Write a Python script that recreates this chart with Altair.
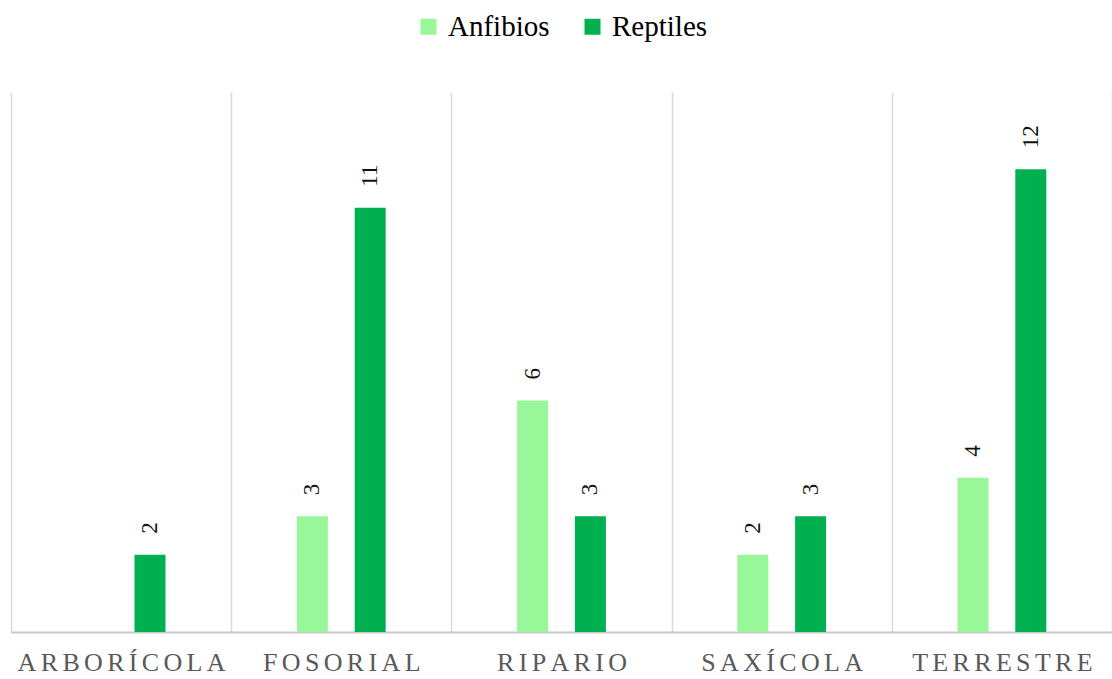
import altair as alt
import pandas as pd

categories = ["ARBORÍCOLA", "FOSORIAL", "RIPARIO", "SAXÍCOLA", "TERRESTRE"]
series = ["Anfibios", "Reptiles"]
anfibios = [None, 3, 6, 2, 4]
reptiles = [2, 11, 3, 3, 12]
colors = ["#98F798", "#00B050"]

rows = []
for c, a, r in zip(categories, anfibios, reptiles):
    if a is not None:
        rows.append({"cat": c, "serie": "Anfibios", "valor": a})
    if r is not None:
        rows.append({"cat": c, "serie": "Reptiles", "valor": r})
df = pd.DataFrame(rows)

FONT = "Liberation Serif"

x_enc = alt.X(
    "cat:N",
    sort=categories,
    scale=alt.Scale(paddingInner=0, paddingOuter=0),
    axis=alt.Axis(
        title=None,
        labelAngle=0,
        labelFont=FONT,
        labelFontSize=26,
        labelColor="#595959",
        labelPadding=17,
        labelLimit=400,
        labelExpr="join(split(datum.label, ''), '\u2006')",
        ticks=False,
        grid=True,
        gridColor="#d9d9d9",
        gridWidth=1.5,
        tickBand="extent",
        domainColor="#c8c8c8",
        domainWidth=2,
    ),
)
xoff = alt.XOffset(
    "serie:N",
    sort=series,
    scale=alt.Scale(paddingInner=0.19, paddingOuter=1),
)
y_enc = alt.Y("valor:Q", scale=alt.Scale(domain=[0, 14]), axis=None)

bars = alt.Chart(df).mark_bar(width=31).encode(
    x=x_enc,
    xOffset=xoff,
    y=y_enc,
    color=alt.Color(
        "serie:N",
        sort=series,
        scale=alt.Scale(domain=series, range=colors),
        legend=alt.Legend(
            title=None,
            orient="none",
            direction="horizontal",
            legendX=403,
            legendY=-80,
            symbolType="square",
            symbolSize=256,
            symbolStrokeWidth=0,
            symbolOpacity=1,
            labelFont=FONT,
            labelFontSize=29,
            labelColor="#000000",
            labelOffset=5,
            columnPadding=28,
            padding=0,
        ),
    ),
)

labels = alt.Chart(df).mark_text(
    angle=270,
    align="left",
    baseline="middle",
    dx=21,
    font=FONT,
    fontSize=23,
    color="#111111",
).encode(
    x=alt.X("cat:N", sort=categories),
    xOffset=alt.XOffset("serie:N", sort=series),
    y=alt.Y("valor:Q"),
    text=alt.Text("valor:Q"),
)

chart = (
    alt.layer(bars, labels)
    .properties(
        width=1101,
        height=540,
        autosize=alt.AutoSizeParams(type="none"),
        padding={"left": 11, "top": 92, "right": 0, "bottom": 47},
        background="white",
    )
    .configure_view(strokeWidth=0)
    .configure_text(font=FONT)
)

chart.save("out.html", embed_options={"renderer": "svg", "actions": False})
